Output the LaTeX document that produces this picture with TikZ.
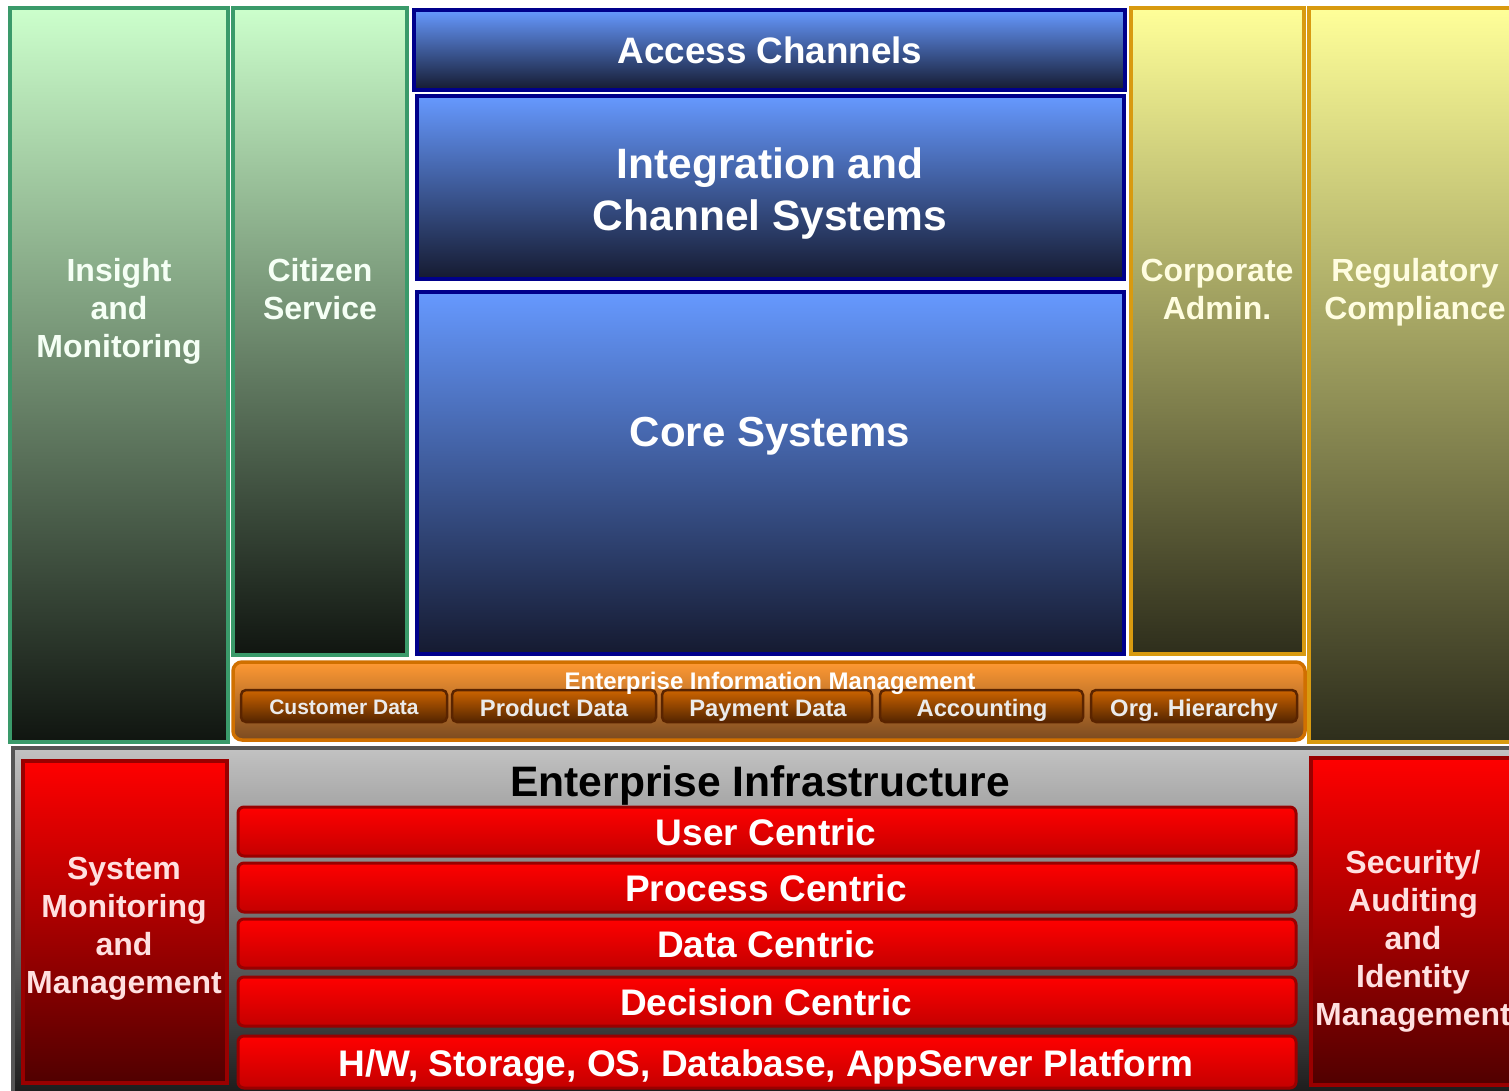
\documentclass[tikz,border=0pt]{standalone}
\usepackage{fontspec}
\setmainfont{Liberation Sans}
\definecolor{grnB}{HTML}{3A9A6A}
\definecolor{grnT}{HTML}{CCFFCC}
\definecolor{grnM}{HTML}{90B090}
\definecolor{grnD}{HTML}{101510}
\definecolor{bluB}{HTML}{00008B}
\definecolor{bluT}{HTML}{6699FF}
\definecolor{bluM}{HTML}{4A6CC8}
\definecolor{bluD}{HTML}{151A30}
\definecolor{ylwB}{HTML}{D89A10}
\definecolor{ylwT}{HTML}{FFFF99}
\definecolor{ylwM}{HTML}{B4B474}
\definecolor{ylwD}{HTML}{2E2E1C}
\definecolor{orgB}{HTML}{D07000}
\definecolor{orgT}{HTML}{FF9933}
\definecolor{orgM}{HTML}{E07A22}
\definecolor{orgD}{HTML}{7A4A20}
\definecolor{subB}{HTML}{5A2400}
\definecolor{subT}{HTML}{CC6400}
\definecolor{subD}{HTML}{552500}
\definecolor{gryB}{HTML}{555555}
\definecolor{gryT}{HTML}{C2C2C2}
\definecolor{gryM}{HTML}{A0A0A0}
\definecolor{gryD}{HTML}{1A1A1A}
\definecolor{redB}{HTML}{990000}
\definecolor{redT}{HTML}{FF0000}
\definecolor{redM}{HTML}{B80000}
\definecolor{redD}{HTML}{500000}
\definecolor{barD}{HTML}{C40000}
\tikzset{
  blk/.style={draw, rectangle, anchor=north west, inner sep=0pt, outer sep=0pt},
  greenbox/.style={blk, draw=grnB, line width=4pt, top color=grnT, middle color=grnM, bottom color=grnD},
  bluebox/.style={blk, draw=bluB, line width=3.5pt, top color=bluT, middle color=bluM, bottom color=bluD},
  yellowbox/.style={blk, draw=ylwB, line width=4pt, top color=ylwT, middle color=ylwM, bottom color=ylwD},
  eimbox/.style={blk, draw=orgB, line width=3.5pt, rounded corners=9pt, top color=orgT, middle color=orgM, bottom color=orgD},
  subbox/.style={blk, draw=subB, line width=2.5pt, rounded corners=5pt, top color=subT, bottom color=subD},
  graybox/.style={blk, draw=gryB, line width=4pt, top color=gryT, middle color=gryM, bottom color=gryD},
  redbox/.style={blk, draw=redB, line width=3.5pt, top color=redT, middle color=redM, bottom color=redD},
  barbox/.style={blk, draw=redB, line width=3pt, rounded corners=6pt, top color=redT, bottom color=barD},
  sidelbl/.style={align=center, inner sep=0pt, font=\fontsize{32}{38}\selectfont\bfseries},
  bluelbl/.style={align=center, inner sep=0pt, text=white},
  sublbl/.style={inner sep=0pt, anchor=base, text=black!8, font=\fontsize{23.8}{26}\selectfont\bfseries},
  barlbl/.style={inner sep=0pt, anchor=base, text=white, font=\fontsize{37}{40}\selectfont\bfseries},
}
\begin{document}
\begin{tikzpicture}[x=1pt,y=-1pt]
\useasboundingbox[fill=white] (0,0) rectangle (1509,1091);
% vertical columns
\node[greenbox, minimum width=218pt, minimum height=734pt] (insight) at (10,8) {};
\node[greenbox, minimum width=174pt, minimum height=647pt] (citizen) at (233,8) {};
\node[yellowbox, minimum width=173pt, minimum height=646pt] (corp) at (1131,8) {};
\node[yellowbox, minimum width=215pt, minimum height=734pt] (reg) at (1309,8) {};
\node[sidelbl, text=green!4!white] (insightL) at (119,311) {Insight\\and\\Monitoring};
\node[sidelbl, text=green!4!white] (citizenL) at (320,289) {Citizen\\Service};
\node[sidelbl, text=yellow!12!white] (corpL) at (1217,289) {Corporate\\Admin.};
\node[sidelbl, text=yellow!12!white] (regL) at (1415,292) {Regulatory\\Compliance};
% blue stack
\node[bluebox, minimum width=711pt, minimum height=80pt] (access) at (414,10) {};
\node[bluebox, minimum width=707pt, minimum height=183pt] (integ) at (417,96) {};
\node[bluebox, minimum width=707pt, minimum height=362pt] (core) at (417,292) {};
\node[bluelbl, font=\fontsize{36.8}{40}\selectfont\bfseries] (accessL) at (770,50) {Access Channels};
\node[bluelbl, font=\fontsize{42.5}{52}\selectfont\bfseries] (integL) at (770,194) {Integration and\\Channel Systems};
\node[bluelbl, font=\fontsize{42}{50}\selectfont\bfseries] (coreL) at (770,436) {Core Systems};
% enterprise information management
\node[eimbox, minimum width=1072pt, minimum height=78pt] (eim) at (233,662) {};
\node[subbox, minimum width=206pt, minimum height=32pt] (cust) at (241,690) {};
\node[subbox, minimum width=204pt, minimum height=32pt] (prod) at (452,690) {};
\node[subbox, minimum width=210pt, minimum height=32pt] (pay) at (662,690) {};
\node[subbox, minimum width=203pt, minimum height=32pt] (acct) at (880,690) {};
\node[subbox, minimum width=206pt, minimum height=32pt] (org) at (1091,690) {};
\node[inner sep=0pt, anchor=base, text=white, font=\fontsize{24}{26}\selectfont\bfseries] (eimL) at (770,689) {Enterprise Information Management};
\node[sublbl, font=\fontsize{21}{24}\selectfont\bfseries] (custL) at (344,714) {Customer Data};
\node[sublbl] (prodL) at (554,716) {Product Data};
\node[sublbl] (payL) at (768,716) {Payment Data};
\node[sublbl] (acctL) at (982,716) {Accounting};
\node[sublbl] (orgL) at (1194,716) {Org. Hierarchy};
% enterprise infrastructure
\node[graybox, minimum width=1510pt, minimum height=350pt] (infra) at (13,748) {};
\node[inner sep=0pt, text=black, font=\fontsize{42.6}{46}\selectfont\bfseries] (infraL) at (760,785) {Enterprise Infrastructure};
\node[redbox, minimum width=204pt, minimum height=322pt] (sysmon) at (23,761) {};
\node[redbox, minimum width=210pt, minimum height=327pt] (secur) at (1311,758) {};
\node[sidelbl, text=red!12!white] (sysmonL) at (124,929) {System\\Monitoring\\and\\Management};
\node[sidelbl, text=red!12!white] (securL) at (1413,941) {Security/\\Auditing\\and\\Identity\\Management};
\node[barbox, minimum width=1058pt, minimum height=49pt] (user) at (238,807) {};
\node[barbox, minimum width=1058pt, minimum height=49pt] (proc) at (238,863) {};
\node[barbox, minimum width=1058pt, minimum height=49pt] (data) at (238,919) {};
\node[barbox, minimum width=1058pt, minimum height=49pt] (deci) at (238,977) {};
\node[barbox, minimum width=1058pt, minimum height=52pt] (hw) at (238,1036) {};
\node[barlbl] (userL) at (766,845) {User Centric};
\node[barlbl] (procL) at (766,901) {Process Centric};
\node[barlbl] (dataL) at (766,957) {Data Centric};
\node[barlbl] (deciL) at (766,1015) {Decision Centric};
\node[barlbl] (hwL) at (766,1076) {H/W, Storage, OS, Database, AppServer Platform};
\end{tikzpicture}
\end{document}
